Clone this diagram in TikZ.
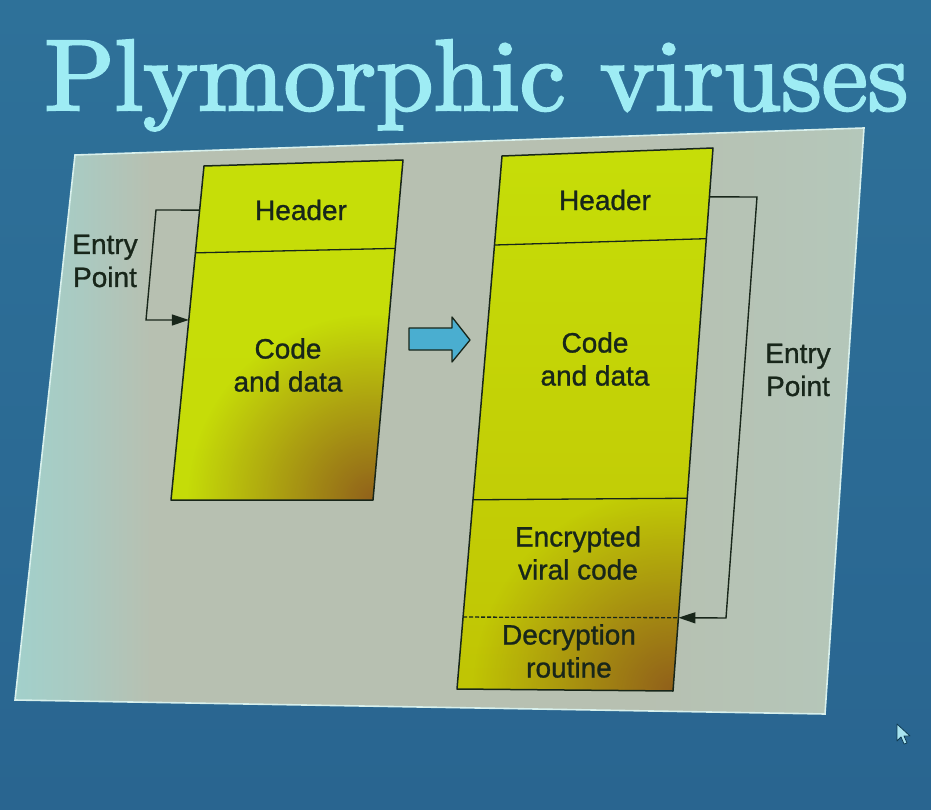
\documentclass[tikz,border=0pt]{standalone}
\usepackage{fontspec}
\newfontfamily\arialf{Liberation Sans}[FakeBold=1]
\newfontfamily\titlef{Latin Modern Roman}[FakeBold=2.5]
\usetikzlibrary{arrows.meta,calc,fadings}

\definecolor{bgtop}{HTML}{2E7199}
\definecolor{bgbot}{HTML}{296590}
\definecolor{panelM}{HTML}{B7C0B1}
\definecolor{panelL}{HTML}{A2D0CB}
\definecolor{panelR}{HTML}{B4C7BA}
\definecolor{panelrim}{HTML}{D8F0EC}
\definecolor{lime}{HTML}{C6DE08}
\definecolor{olive}{HTML}{C0C404}
\definecolor{rust}{HTML}{8E5A1C}
\definecolor{shadowblue}{HTML}{3C8EB2}
\definecolor{ink}{HTML}{18261A}
\definecolor{titlecyan}{HTML}{9EECF4}
\definecolor{arrowblue}{HTML}{4AAED0}
\definecolor{cursorc}{HTML}{A8E4F0}
\definecolor{cursorline}{HTML}{0E3B52}

\pgfdeclarehorizontalshading{panelshade}{100bp}{color(0bp)=(panelL); color(25bp)=(panelL); color(29bp)=(panelL!60!panelM); color(33bp)=(panelM); color(62bp)=(panelM); color(75bp)=(panelR); color(100bp)=(panelR)}
\tikzfading[name=rustfade, inner color=transparent!0, outer color=transparent!100]

\tikzset{
  boxline/.style={draw=ink, line width=1.5pt, line join=round},
  divline/.style={draw=ink, line width=1.3pt},
  conn/.style={draw=ink, line width=1.4pt, line join=miter},
  tip/.style={-{Triangle[length=17pt,width=11pt]}},
  lbl/.style={font=\arialf\fontsize{28}{33}\selectfont, text=ink, align=center, inner sep=0pt},
}

\begin{document}
\begin{tikzpicture}[x=1pt,y=-1pt]
\useasboundingbox (0,0) rectangle (931,810);
% background
\shade[top color=bgtop, bottom color=bgbot] (0,0) rectangle (931,810);

% title
\node[anchor=base west, inner sep=0pt, text=titlecyan] (title) at (44,110)
  {\resizebox{864pt}{70pt}{\titlef Plymorphic viruses}};

% panel
\coordinate (P1) at (75,155);
\coordinate (P2) at (864,128);
\coordinate (P3) at (825,714);
\coordinate (P4) at (15,700);
\shade[shading=panelshade] (P1)--(P2)--(P3)--(P4)--cycle;
\draw[panelrim, line width=1.6pt] (P1)--(P2)--(P3)--(P4)--cycle;

% left box
\coordinate (L1) at (204,166);
\coordinate (L2) at (403,160);
\coordinate (L3) at (373,500);
\coordinate (L4) at (171,500);
\fill[shadowblue, shift={(12,13)}] (L1)--(L2)--(L3)--(L4)--cycle;
\begin{scope}
  \clip (L1)--(L2)--(L3)--(L4)--cycle;
  \shade[top color=lime, bottom color=lime!90!olive] (160,150) rectangle (410,510);
  \fill[rust, path fading=rustfade, fill opacity=0.95] (L3) circle (185);
\end{scope}
\draw[boxline] (L1)--(L2)--(L3)--(L4)--cycle;
\coordinate (LhL) at ($(L1)!0.26!(L4)$);
\coordinate (LhR) at ($(L2)!0.26!(L3)$);
\draw[divline] (LhL)--(LhR);

% right box
\coordinate (R1) at (502,156);
\coordinate (R2) at (713,148);
\coordinate (R3) at (673,691);
\coordinate (R4) at (457,689);
\fill[shadowblue, shift={(14,14)}] (R1)--(R2)--(R3)--(R4)--cycle;
\begin{scope}
  \clip (R1)--(R2)--(R3)--(R4)--cycle;
  \shade[top color=lime, bottom color=olive] (440,140) rectangle (720,700);
  \fill[rust, path fading=rustfade, fill opacity=0.95] (R3) circle (200);
\end{scope}
\draw[boxline] (R1)--(R2)--(R3)--(R4)--cycle;
\coordinate (RhL) at ($(R1)!0.167!(R4)$);
\coordinate (RhR) at ($(R2)!0.167!(R3)$);
\coordinate (RcL) at ($(R1)!0.645!(R4)$);
\coordinate (RcR) at ($(R2)!0.645!(R3)$);
\coordinate (RdL) at ($(R1)!0.865!(R4)$);
\coordinate (RdR) at ($(R2)!0.865!(R3)$);
\draw[divline] (RhL)--(RhR);
\draw[divline] (RcL)--(RcR);
\draw[divline, dashed, dash pattern=on 4pt off 2pt] (RdL)--(RdR);

% middle arrow
\draw[fill=arrowblue, draw=ink, line width=1.3pt, line join=round]
  (409,328)--(452,328)--(452,317)--(470,340)--(452,362)--(452,350)--(409,350)--cycle;

% left entry connector
\coordinate (lcS) at ($(L1)!0.132!(L4)$);
\coordinate (lcA) at (156,210);
\coordinate (lcB) at (146,320);
\coordinate (lcE) at ($(L1)!0.461!(L4)$);
\draw[conn, tip] (lcS) -- (lcA) -- (lcB) -- (lcE);

% right entry connector
\coordinate (rcS) at ($(R2)!0.09!(R3)$);
\coordinate (rcA) at (757,197);
\coordinate (rcB) at (726,618);
\draw[conn, tip] (rcS) -- (rcA) -- (rcB) -- (RdR);

% labels
\node[lbl] (lhead) at (301,210) {Header};
\node[lbl] (lcode) at (288,365) {Code\\and data};
\node[lbl] (lentry) at (105,261) {Entry\\Point};
\node[lbl] (rhead) at (605,200) {Header};
\node[lbl] (rcode) at (595,359) {Code\\and data};
\node[lbl] (renc) at (578,553) {Encrypted\\viral code};
\node[lbl] (rdec) at (569,651) {Decryption\\routine};
\node[lbl] (rentry) at (798,370) {Entry\\Point};

% mouse cursor
\draw[fill=cursorc, draw=cursorline, line width=0.8pt, line join=round]
  (897,724) -- (897,741) -- (901,737) -- (904,744) -- (907,743) -- (904,736) -- (910,736) -- cycle;
\end{tikzpicture}
\end{document}
